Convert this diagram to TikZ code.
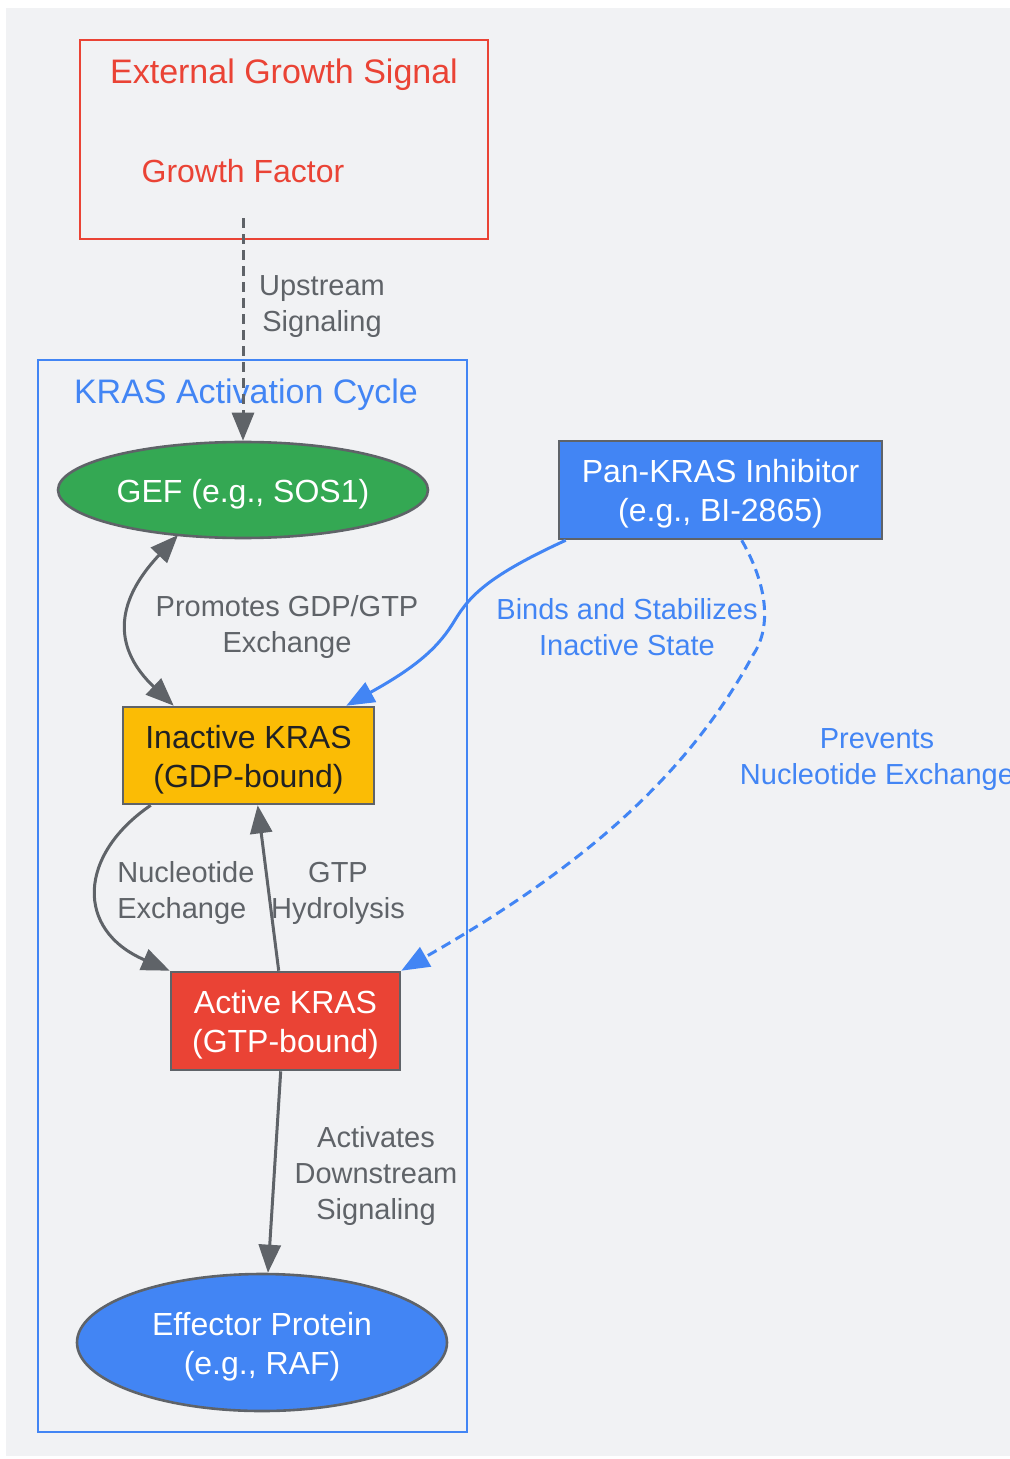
\documentclass[tikz,border=0pt]{standalone}
\usepackage{fontspec}
\setmainfont{Liberation Sans}
\usetikzlibrary{arrows.meta,calc,shapes.geometric}
\definecolor{bg}{HTML}{F1F2F4}
\definecolor{gred}{HTML}{EA4335}
\definecolor{ggreen}{HTML}{34A853}
\definecolor{gblue}{HTML}{4285F4}
\definecolor{gyellow}{HTML}{FBBC05}
\definecolor{ggray}{HTML}{5F6368}
\definecolor{gdark}{HTML}{202124}
\begin{document}
\begin{tikzpicture}[x=0.5pt,y=-0.5pt,
  nodefont/.style={font=\fontsize{16}{19.5}\selectfont},
  lblfont/.style={font=\fontsize{14.5}{18}\selectfont},
  titlefont/.style={font=\fontsize{17}{20}\selectfont},
  txt/.style={nodefont, align=center, inner sep=0pt, yshift=-2pt},
  box/.style={rectangle, draw=ggray, line width=1.3pt, inner sep=0pt},
  oval/.style={ellipse, draw=ggray, line width=1.3pt, inner sep=0pt},
  cluster/.style={rectangle, line width=1.2pt, inner sep=0pt},
  elabel/.style={lblfont, text=ggray, align=center, inner sep=0pt},
  blabel/.style={lblfont, text=gblue, align=center, inner sep=0pt},
  tipstyle/.style={-{Triangle[length=14pt,width=11pt]}},
  conn/.style={draw=ggray, line width=1.5pt, tipstyle},
  bconn/.style={draw=gblue, line width=1.5pt, tipstyle},
  dashpat/.style={dash pattern=on 5pt off 3pt}
]
\useasboundingbox (0,0) rectangle (1010,1459);
\fill[white] (0,0) rectangle (1010,1459);
\fill[bg] (6,8) rectangle (1010,1456);

% clusters
\node[cluster, draw=gred, minimum width=204pt, minimum height=99.5pt] (cl1) at (284,139.5) {};
\node[titlefont, text=gred, inner sep=0pt] (t1) at (284,75) {External Growth Signal};
\node[cluster, draw=gblue, minimum width=214.5pt, minimum height=536pt] (cl2) at (252.5,896) {};
\node[titlefont, text=gblue, inner sep=0pt] (t2) at (246,395) {KRAS Activation Cycle};

% nodes
\node[nodefont, text=gred, minimum height=47pt, inner sep=0pt,
  label={[txt, text=gred, yshift=2pt]center:Growth Factor}] (gf) at (243,171) {};
\node[oval, fill=ggreen, minimum width=185pt, minimum height=48pt,
  label={[txt, text=white]center:GEF (e.g., SOS1)}] (gef) at (243,490) {};
\node[box, fill=gyellow, minimum width=125.5pt, minimum height=48.5pt,
  label={[txt, text=gdark]center:Inactive KRAS\\(GDP-bound)}] (inact) at (248.5,755.5) {};
\node[box, fill=gred, minimum width=114.5pt, minimum height=49pt,
  label={[txt, text=white]center:Active KRAS\\(GTP-bound)}] (act) at (285.5,1021) {};
\node[oval, fill=gblue, minimum width=185pt, minimum height=68.5pt,
  label={[txt, text=white]center:Effector Protein\\(e.g., RAF)}] (eff) at (262,1342.5) {};
\node[box, fill=gblue, minimum width=161.5pt, minimum height=49pt,
  label={[txt, text=white]center:Pan-KRAS Inhibitor\\(e.g., BI-2865)}] (inh) at (720.5,490) {};

% edges
\draw[conn, dashpat] (gf.south) -- (gef.north);
\draw[draw=ggray, line width=1.5pt, {Triangle[length=14pt,width=11pt]}-{Triangle[length=14pt,width=11pt]}]
  ($(gef.center)+(-65,45)$) .. controls (112,605) and (115,650) .. ($(inact.north west)+(52,0)$);
\draw[conn] ($(inact.south west)+(29,0)$) .. controls (78,855) and (75,930) .. (act.north west);
\draw[conn] ($(act.north west)+(109,0)$) -- ($(inact.south west)+(136,0)$);
\draw[conn] ($(act.south west)+(111,0)$) -- ($(eff.north)+(6,0)$);
\draw[bconn] ($(inh.south west)+(8,0)$) .. controls (490,575) and (470,595) .. (455,620)
  .. controls (440,645) and (420,665) .. ($(inact.north east)+(-29,0)$);
\draw[bconn, dashpat] ($(inh.south west)+(184,0)$) .. controls (770,590) and (770,630) .. (753,655)
  .. controls (680,790) and (560,880) .. (act.north east);

% edge labels
\node[elabel] (l1) at (322,307) {Upstream\\Signaling};
\node[elabel] (l2) at (287,627) {Promotes GDP/GTP\\Exchange};
\node[elabel, align=left, anchor=west] (l3) at (117,893) {Nucleotide\\Exchange};
\node[elabel] (l4) at (338,893) {GTP\\Hydrolysis};
\node[elabel] (l5) at (376,1176) {Activates\\Downstream\\Signaling};
\node[blabel] (l6) at (627,627) {Binds and Stabilizes\\Inactive State};
\node[blabel] (l7) at (877,760) {Prevents\\Nucleotide Exchange};
\end{tikzpicture}
\end{document}
